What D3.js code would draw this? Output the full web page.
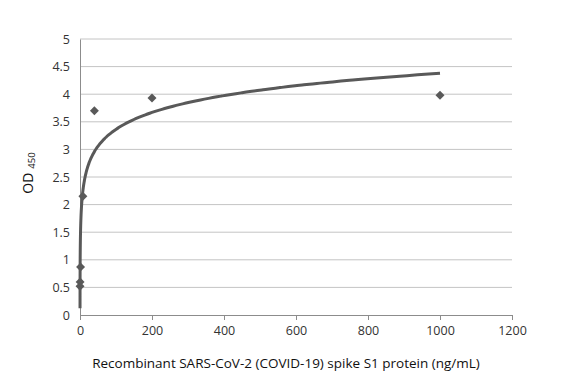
<!DOCTYPE html>
<html>
<head>
<meta charset="utf-8">
<script src="https://cdn.jsdelivr.net/npm/d3@7"></script>
<style>
  body { margin: 0; background: #fff; }
  text { font-family: "Open Sans", "Liberation Sans", sans-serif; }
</style>
</head>
<body>
<div id="vis"></div>
<script>
// data
const concentration = [0.064, 0.32, 1.6, 8, 40, 200, 1000];
const od450 = [0.52, 0.6, 0.87, 2.15, 3.7, 3.93, 3.98];
const xTicks = [0, 200, 400, 600, 800, 1000, 1200];
const yTicks = [0, 0.5, 1, 1.5, 2, 2.5, 3, 3.5, 4, 4.5, 5];

// margin
const margin = { top: 39, right: 70, bottom: 67, left: 80 };
const width = 582 - margin.left - margin.right;
const height = 382 - margin.top - margin.bottom;

const root = d3.select('#vis')
    .append('svg')
    .attr('width', 582)
    .attr('height', 382);

const svg = root.append('g')
    .attr('transform', `translate(${margin.left},${margin.top})`);

// scales
const xScale = d3.scaleLinear().domain([0, 1200]).range([0, width]);
const yScale = d3.scaleLinear().domain([0, 5]).range([height, 0]);

// gridlines
svg.append('g')
    .selectAll('line')
    .data(yTicks.slice(1))
    .join('line')
    .attr('x1', 0)
    .attr('x2', width)
    .attr('y1', d => yScale(d))
    .attr('y2', d => yScale(d))
    .attr('stroke', '#c4c4c4')
    .attr('stroke-width', 1);

// x axis
const xAxis = d3.axisBottom(xScale).tickValues(xTicks).tickFormat(d3.format('~g'))
    .tickSize(5).tickPadding(6);
const gx = svg.append('g')
    .attr('transform', `translate(0,${height})`)
    .call(xAxis);
gx.select('.domain').attr('stroke', '#8c8c8c');
gx.selectAll('.tick line').attr('stroke', '#8c8c8c');
gx.selectAll('.tick text').attr('fill', '#333').style('font-size', '12.5px');

// y axis
const yAxis = d3.axisLeft(yScale).tickValues(yTicks).tickFormat(d3.format('~g'))
    .tickSize(0).tickPadding(10);
const gy = svg.append('g').call(yAxis);
gy.select('.domain').attr('stroke', '#8c8c8c');
gy.selectAll('.tick text').attr('fill', '#333').style('font-size', '12.5px');

// log trendline (least squares on ln x)
const lx = concentration.map(Math.log);
const mx = d3.mean(lx), my = d3.mean(od450);
const a = d3.sum(lx, (v, i) => (v - mx) * (od450[i] - my)) / d3.sum(lx, v => (v - mx) ** 2);
const b = my - a * mx;
const lo = Math.log(concentration[0]), hi = Math.log(1000);
const fitX = d3.range(0, 301).map(i => Math.exp(lo + i / 300 * (hi - lo)));

const line = d3.line()
    .x(d => xScale(d))
    .y(d => yScale(a * Math.log(d) + b))
    .curve(d3.curveMonotoneX);

svg.append('path')
    .datum(fitX)
    .attr('d', line)
    .attr('fill', 'none')
    .attr('stroke', '#595959')
    .attr('stroke-width', 3);

// points (diamonds = rotated squares)
svg.selectAll('.point')
    .data(concentration)
    .join('path')
    .attr('class', 'point')
    .attr('d', d3.symbol().type(d3.symbolSquare).size(40))
    .attr('transform', (d, i) => `translate(${xScale(d)},${yScale(od450[i])}) rotate(45)`)
    .attr('fill', '#595959');

// axis titles
root.append('text')
    .attr('x', margin.left + xScale(600) - 10)
    .attr('y', 368)
    .attr('text-anchor', 'middle')
    .attr('fill', '#111')
    .style('font-size', '13.5px')
    .text('Recombinant SARS-CoV-2 (COVID-19) spike S1 protein (ng/mL)');

const yt = root.append('text')
    .attr('transform', 'translate(33,173) rotate(-90)')
    .attr('text-anchor', 'middle')
    .attr('fill', '#111')
    .style('font-size', '14px');
yt.append('tspan').text('OD');
yt.append('tspan').attr('dx', 4).attr('dy', 2).style('font-size', '9.5px').text('450');
</script>
</body>
</html>
